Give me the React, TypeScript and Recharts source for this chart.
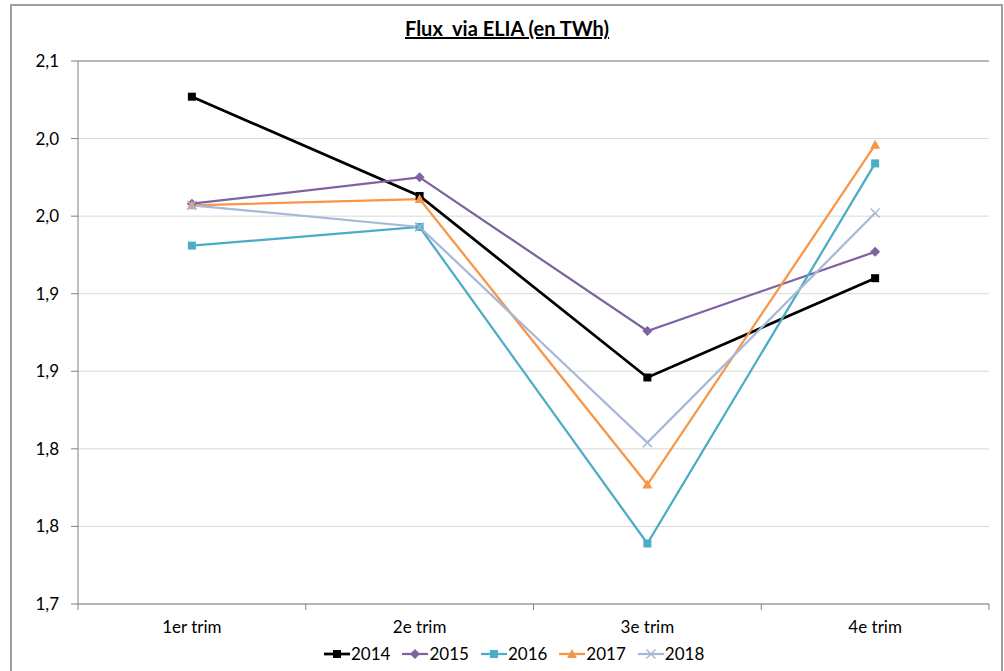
import React from 'react';
import { LineChart, Line, XAxis, YAxis, CartesianGrid, ReferenceLine } from 'recharts';

const quarters = ['1er trim', '2e trim', '3e trim', '4e trim'];
const v2014 = [2.027, 1.963, 1.846, 1.910];
const v2015 = [1.958, 1.975, 1.876, 1.927];
const v2016 = [1.931, 1.943, 1.739, 1.984];
const v2017 = [1.957, 1.961, 1.777, 1.996];
const v2018 = [1.957, 1.943, 1.804, 1.952];

const yTicks = [1.7, 1.75, 1.8, 1.85, 1.9, 1.95, 2.0, 2.05];
const yTickLabels = ['1,7', '1,8', '1,8', '1,9', '1,9', '2,0', '2,0', '2,1'];
const xTicks = [0, 0.5, 1, 1.5, 2, 2.5, 3, 3.5, 4];

type Shape = 'square' | 'diamond' | 'triangle' | 'x';

const series: { key: string; color: string; shape: Shape; width: number; values: number[] }[] = [
  { key: '2014', color: '#000000', shape: 'square', width: 2.75, values: v2014 },
  { key: '2015', color: '#7f62a1', shape: 'diamond', width: 2.25, values: v2015 },
  { key: '2016', color: '#4aacc6', shape: 'square', width: 2.25, values: v2016 },
  { key: '2017', color: '#f79646', shape: 'triangle', width: 2.25, values: v2017 },
  { key: '2018', color: '#a7b8d8', shape: 'x', width: 2.25, values: v2018 },
];

const data = quarters.map((q, i) => {
  const row: Record<string, number | string> = { name: q, pos: i + 0.5 };
  series.forEach((s) => {
    row[s.key] = s.values[i];
  });
  return row;
});

const FONT = 'Lato, "Open Sans", sans-serif';

function Marker({ cx, cy, shape, color }: { cx: number; cy: number; shape: Shape; color: string }) {
  if (shape === 'square') return <rect x={cx - 4} y={cy - 4} width={8} height={8} fill={color} />;
  if (shape === 'diamond')
    return <polygon points={`${cx},${cy - 5} ${cx + 5},${cy} ${cx},${cy + 5} ${cx - 5},${cy}`} fill={color} />;
  if (shape === 'triangle')
    return <polygon points={`${cx},${cy - 5} ${cx + 5},${cy + 4} ${cx - 5},${cy + 4}`} fill={color} />;
  return (
    <g stroke={color} strokeWidth={1.5}>
      <line x1={cx - 4.5} y1={cy - 4.5} x2={cx + 4.5} y2={cy + 4.5} />
      <line x1={cx - 4.5} y1={cy + 4.5} x2={cx + 4.5} y2={cy - 4.5} />
    </g>
  );
}

const makeDot = (shape: Shape, color: string) => (props: any) => {
  const { cx, cy, index } = props;
  return <Marker key={`d-${index}`} cx={cx} cy={cy} shape={shape} color={color} />;
};

const XTick = (props: any) => {
  const { x, y, payload } = props;
  const v = payload.value as number;
  if (Number.isInteger(v)) {
    return <line x1={x} y1={y} x2={x} y2={y + 6} stroke="#808080" />;
  }
  return (
    <text x={x} y={y + 25} textAnchor="middle" dominantBaseline="middle" fontSize={17} fill="#000" fontFamily={FONT}>
      {quarters[Math.floor(v)]}
    </text>
  );
};

export default function App() {
  return (
    <div style={{ position: 'fixed', left: 0, top: 0, width: 1004, height: 671, overflow: 'hidden', background: '#fff' }}>
      <div
        style={{
          position: 'absolute',
          left: 10,
          top: 4,
          width: 989,
          height: 700,
          border: '2px solid #a0a0a0',
        }}
      />
      <div
        style={{
          position: 'absolute',
          left: 0,
          width: 1014,
          top: 16,
          textAlign: 'center',
          fontFamily: FONT,
          fontWeight: 'bold',
          fontSize: 20,
          textDecoration: 'underline',
          whiteSpace: 'pre',
        }}
      >
        {'Flux  via ELIA (en TWh)'}
      </div>
      <div style={{ position: 'absolute', left: 0, top: 0 }}>
        <LineChart width={1004} height={671} data={data} margin={{ top: 61, right: 15, bottom: 37, left: 18 }}>
          <CartesianGrid vertical={false} stroke="#d9d9d9" />
          <ReferenceLine y={2.05} stroke="#808080" />
          <XAxis
            dataKey="pos"
            type="number"
            domain={[0, 4]}
            ticks={xTicks}
            interval={0}
            tickLine={false}
            tickSize={0}
            tickMargin={0}
            height={30}
            stroke="#808080"
            tick={<XTick />}
          />
          <YAxis
            type="number"
            domain={[1.7, 2.05]}
            ticks={yTicks}
            interval={0}
            width={60}
            tickSize={7}
            tickMargin={12}
            stroke="#808080"
            tick={{ fill: '#000', fontSize: 17, fontFamily: FONT }}
            tickFormatter={(v: number) => yTickLabels[yTicks.findIndex((t) => Math.abs(t - v) < 1e-6)]}
          />
          {series.map((s) => (
            <Line
              key={s.key}
              dataKey={s.key}
              stroke={s.color}
              strokeWidth={s.width}
              dot={makeDot(s.shape, s.color)}
              activeDot={false}
              isAnimationActive={false}
            />
          ))}
        </LineChart>
      </div>
      <div
        style={{
          position: 'absolute',
          left: 324,
          top: 643,
          display: 'flex',
          gap: 12,
          fontFamily: FONT,
          fontSize: 17,
          alignItems: 'center',
        }}
      >
        {series.map((s) => (
          <div key={s.key} style={{ display: 'flex', alignItems: 'center' }}>
            <svg width={26} height={14}>
              <line x1={0} y1={7} x2={26} y2={7} stroke={s.color} strokeWidth={s.width} />
              <Marker cx={13} cy={7} shape={s.shape} color={s.color} />
            </svg>
            <span style={{ marginLeft: 1 }}>{s.key}</span>
          </div>
        ))}
      </div>
    </div>
  );
}
